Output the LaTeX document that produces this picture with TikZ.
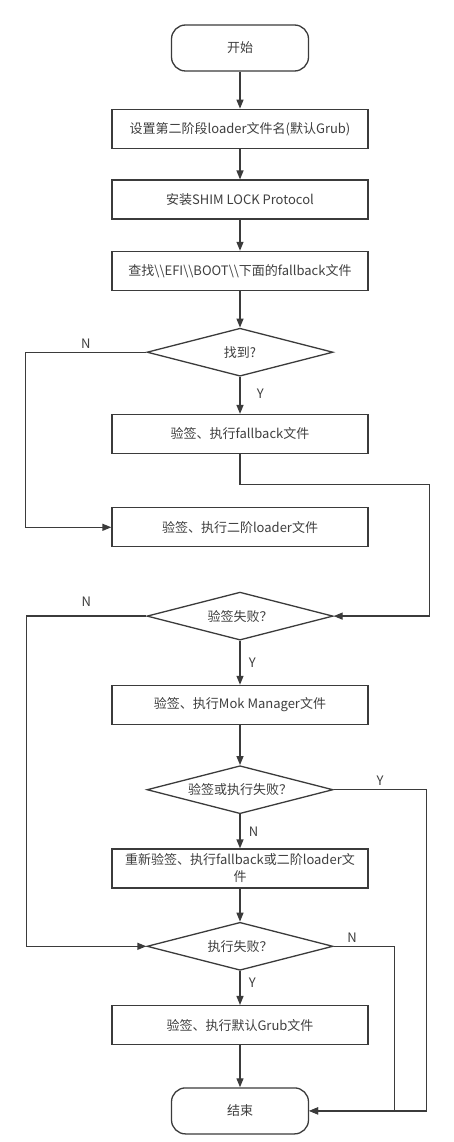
\documentclass[tikz,border=0pt]{standalone}
\usepackage{fontspec}
\setmainfont{Noto Sans CJK SC}
\usetikzlibrary{arrows.meta, positioning, shapes.geometric}
\definecolor{trait}{HTML}{3B3B3B}
\definecolor{texte}{HTML}{3F3F3F}
\tikzset{
  boite/.style={rectangle, draw=trait, line width=1.3pt, fill=white, text=texte,
    minimum width=256pt, minimum height=39pt, inner sep=2pt, align=center,
    font=\fontsize{13}{17}\selectfont},
  terminal/.style={boite, rounded corners=14pt, minimum width=137pt, minimum height=46pt},
  choix/.style={boite, diamond, aspect=3.9, minimum width=186pt, minimum height=48pt, inner sep=0pt},
  fleche/.style={-{Triangle[length=9pt, width=7pt]}, line width=1.3pt, color=trait},
  etiquette/.style={font=\fontsize{13}{15}\selectfont, text=texte},
}
\begin{document}
\begin{tikzpicture}[node distance=37pt]
    \fill[white] (0,0) rectangle (454pt,-1142pt);
    \node[terminal] (debut) at (240pt,-48pt) {开始};
    \node[boite, below=37pt of debut] (nomloader) {设置第二阶段loader文件名(默认Grub)};
    \node[boite, below=30.5pt of nomloader] (protocole) {安装SHIM LOCK Protocol};
    \node[boite, below=31pt of protocole] (recherche) {查找\textbackslash\textbackslash EFI\textbackslash\textbackslash BOOT\textbackslash\textbackslash 下面的fallback文件};
    \node[choix, below=36.5pt of recherche] (trouve) {找到?};
    \node[boite, below=37pt of trouve] (fallback) {验签、执行fallback文件};
    \node[boite, below=53pt of fallback] (second) {验签、执行二阶loader文件};
    \node[choix, below=44pt of second] (echec) {验签失败？};
    \node[boite, below=44pt of echec] (mok) {验签、执行Mok Manager文件};
    \node[choix, below=40pt of mok] (echecmok) {验签或执行失败？};
    \node[boite, below=34pt of echecmok] (reessai) {重新验签、执行fallback或二阶loader文\\件};
    \node[choix, below=33pt of reessai] (echecexec) {执行失败？};
    \node[boite, below=34pt of echecexec] (grub) {验签、执行默认Grub文件};
    \node[terminal, below=42pt of grub] (fin) {结束};

    \draw[fleche] (debut) -- (nomloader);
    \draw[fleche] (nomloader) -- (protocole);
    \draw[fleche] (protocole) -- (recherche);
    \draw[fleche] (recherche) -- (trouve);
    \draw[fleche] (trouve) -- node[etiquette, right, xshift=13pt, pos=.45] {Y} (fallback);
    \draw[fleche] (trouve.west) -- node[etiquette, above] {N} ++(-121pt,0) |- (second.west);
    \draw[fleche] (fallback.south) -- ++(0,-30pt) -| ([xshift=96pt]echec.east) -- (echec.east);
    \draw[fleche] (echec) -- node[etiquette, right, xshift=5pt] {Y} (mok);
    \draw[fleche] (echec.west) -- node[etiquette, above, yshift=6pt] {N} ++(-120pt,0) |- (echecexec.west);
    \draw[fleche] (mok) -- (echecmok);
    \draw[fleche] (echecmok) -- node[etiquette, right, xshift=5pt] {N} (reessai);
    \draw[fleche] (echecmok.east) -- node[etiquette, above] {Y} ++(93pt,0) |- (fin.east);
    \draw[fleche] (reessai) -- (echecexec);
    \draw[fleche] (echecexec) -- node[etiquette, right, xshift=5pt, pos=.35] {Y} (grub);
    \draw[fleche] (echecexec.east) -- node[etiquette, above, pos=.3] {N} ++(61pt,0) |- (fin.east);
    \draw[fleche] (grub) -- (fin);
\end{tikzpicture}
\end{document}
